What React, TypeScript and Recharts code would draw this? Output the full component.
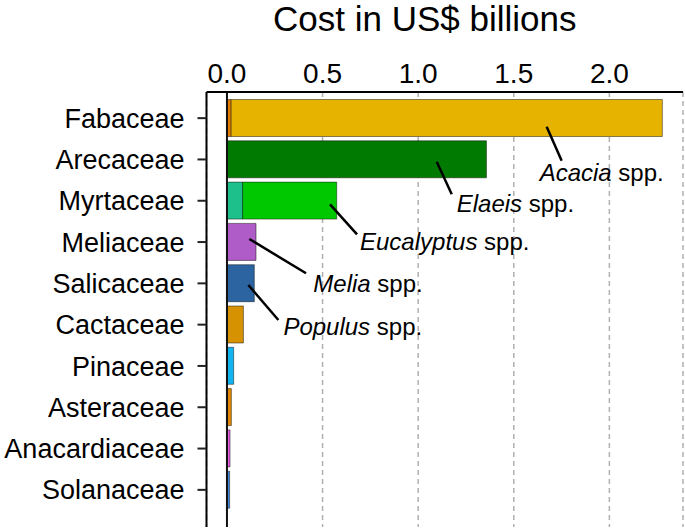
import { BarChart, Bar, XAxis, YAxis, CartesianGrid, ReferenceLine, LabelList, Cell } from "recharts";

const families = [
  "Fabaceae", "Arecaceae", "Myrtaceae", "Meliaceae", "Salicaceae",
  "Cactaceae", "Pinaceae", "Asteraceae", "Anacardiaceae", "Solanaceae",
];
// small left-hand segment (only Fabaceae and Myrtaceae have one)
const firstValues = [0.022, 0, 0.082, 0, 0, 0, 0, 0, 0, 0];
const mainValues = [2.255, 1.357, 0.492, 0.152, 0.143, 0.086, 0.035, 0.023, 0.016, 0.014];
const firstColors = ["#e07b00", "#007a00", "#1dbf8a", "#b05cc8", "#2b64a0", "#d69200", "#10b4f0", "#e08600", "#e65ce0", "#3f88e0"];
const mainColors = ["#e6b400", "#007a00", "#00c800", "#b05cc8", "#2b64a0", "#d69200", "#10b4f0", "#e08600", "#e65ce0", "#3f88e0"];
const xTicks = [0, 0.5, 1, 1.5, 2];
const xDomain = [-0.107, 2.385];

// genus labels: anchor value on the bar, then pixel offsets for leader end and text
const annotations = [
  { family: "Fabaceae", genus: "Acacia", at: 1.672, dy: 8.7, ex: 15, ey: 34, tx: -7, ty: 54 },
  { family: "Arecaceae", genus: "Elaeis", at: 1.097, dy: 2.4, ex: 15, ey: 32.6, tx: 20, ty: 50 },
  { family: "Myrtaceae", genus: "Eucalyptus", at: 0.539, dy: 3.7, ex: 27, ey: 30, tx: 30, ty: 45.5 },
  { family: "Meliaceae", genus: "Melia", at: 0.117, dy: -2.9, ex: 56.7, ey: 34.3, tx: 64, ty: 52.7 },
  { family: "Salicaceae", genus: "Populus", at: 0.112, dy: 1.8, ex: 30, ey: 35, tx: 35, ty: 50 },
];

const rows = families.map((family, i) => ({
  family,
  first: firstValues[i],
  main: mainValues[i],
}));

const font = "'Liberation Sans', Arial, sans-serif";

function GenusLabel(props: any) {
  const vb = props.viewBox ?? props;
  const a = annotations.find((d) => d.family === props.value);
  if (!a) return null;
  const row = rows.find((r) => r.family === a.family)!;
  const k = vb.width / row.main;
  const zeroX = vb.x - row.first * k;
  const x1 = zeroX + a.at * k;
  const y1 = vb.y + vb.height / 2 + a.dy;
  return (
    <g>
      <line x1={x1} y1={y1} x2={x1 + a.ex} y2={y1 + a.ey} stroke="#000" strokeWidth={2.5} />
      <text x={x1 + a.tx} y={y1 + a.ty} fontSize={24} fontFamily={font} fill="#000">
        <tspan fontStyle="italic">{a.genus}</tspan>{" spp."}
      </text>
    </g>
  );
}

function Title(props: any) {
  const vb = props.viewBox;
  return (
    <text x={vb.x + vb.width / 2 - 20} y={vb.y - 21} textAnchor="middle" fontSize={35} fontFamily={font} fill="#000">
      Cost in US$ billions
    </text>
  );
}

export default function App() {
  const boxLine = { stroke: "#000", strokeWidth: 2 };
  return (
    <div style={{ position: "absolute", left: 0, top: 0, fontFamily: font }}>
      <BarChart
        width={685}
        height={530}
        data={rows}
        layout="vertical"
        margin={{ top: 52, right: 2, bottom: 3, left: 0 }}
        barCategoryGap={2}
      >
        <CartesianGrid horizontal={false} stroke="#b0b0b0" strokeWidth={1.5} strokeDasharray="5 4" />
        <XAxis
          type="number"
          orientation="top"
          domain={xDomain}
          allowDataOverflow
          ticks={xTicks}
          tickFormatter={(v: number) => v.toFixed(1)}
          height={40}
          tickLine={false}
          tickMargin={3}
          axisLine={boxLine}
          tick={{ fontSize: 28, fill: "#000", fontFamily: font }}
          label={<Title />}
        />
        <XAxis
          xAxisId="bottom"
          type="number"
          orientation="bottom"
          domain={xDomain}
          allowDataOverflow
          height={0}
          tick={false}
          tickLine={false}
          axisLine={boxLine}
        />
        <YAxis
          type="category"
          dataKey="family"
          width={206.5}
          padding={{ top: 5.5, bottom: 16.5 }}
          tickSize={9}
          tickMargin={13}
          tickLine={{ stroke: "#222", strokeWidth: 2 }}
          axisLine={boxLine}
          tick={{ fontSize: 27, fill: "#000", fontFamily: font }}
          interval={0}
        />
        <YAxis
          yAxisId="right"
          type="category"
          dataKey="family"
          orientation="right"
          width={0}
          tick={false}
          tickLine={false}
          axisLine={boxLine}
        />
        <Bar dataKey="first" stackId="a" isAnimationActive={false} stroke="rgba(0,0,0,0.45)" strokeWidth={1}>
          {rows.map((r, i) => (
            <Cell key={r.family} fill={firstColors[i]} />
          ))}
        </Bar>
        <Bar dataKey="main" stackId="a" isAnimationActive={false} stroke="rgba(0,0,0,0.45)" strokeWidth={1}>
          {rows.map((r, i) => (
            <Cell key={r.family} fill={mainColors[i]} />
          ))}
          <LabelList dataKey="family" content={<GenusLabel />} />
        </Bar>
        <ReferenceLine x={0} stroke="#111" strokeWidth={2} />
      </BarChart>
    </div>
  );
}
